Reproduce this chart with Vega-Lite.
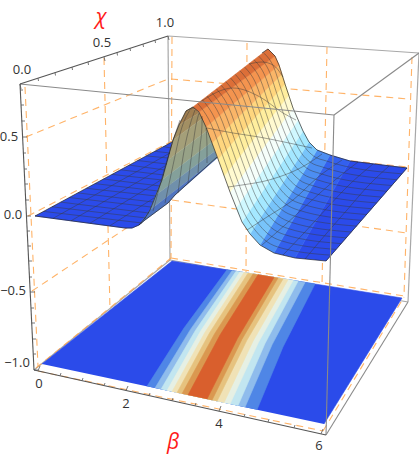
{
"$schema":"https://vega.github.io/schema/vega-lite/v6.json",
"width":419,"height":458,"padding":0,"autosize":{"type":"none"},"background":"white",
"config":{"view":{"stroke":null}},
"datasets":{
"dash":[
{"x":26,"y":137,"x2":168,"y2":79},{"x":28,"y":216,"x2":172,"y2":141},{"x":32,"y":291,"x2":170,"y2":199},{"x":36,"y":368,"x2":171,"y2":258},{"x":25,"y":87,"x2":38,"y2":366},{"x":104,"y":58,"x2":110,"y2":310},{"x":172,"y":37,"x2":171,"y2":258},{"x":171,"y":79,"x2":409,"y2":99},{"x":172,"y":200,"x2":407,"y2":233},{"x":172,"y":141,"x2":407,"y2":167},{"x":247,"y":43,"x2":246,"y2":273},{"x":327,"y":47,"x2":322,"y2":285},{"x":412,"y":57,"x2":404,"y2":296},{"x":171,"y":258,"x2":404,"y2":296},{"x":38,"y":371,"x2":323,"y2":431},{"x":323,"y":431,"x2":404,"y2":297}],
"backEdges":[
{"x":168,"y":36,"x2":170,"y2":260},{"x":168,"y":36,"x2":419,"y2":53},{"x":419,"y":53,"x2":408,"y2":302},{"x":34,"y":370,"x2":170,"y2":260},{"x":170,"y":260,"x2":408,"y2":302}],
"polys":[
{"p":"floor","k":0,"x":42,"y":364},{"p":"floor","k":1,"x":172,"y":261},{"p":"floor","k":2,"x":402,"y":298},{"p":"floor","k":3,"x":324,"y":424},
{"p":"b1","k":0,"x":147,"y":386.3},{"p":"b1","k":1,"x":184,"y":328},{"p":"b1","k":2,"x":227,"y":269.8},{"p":"b1","k":3,"x":315,"y":284},{"p":"b1","k":4,"x":283,"y":346.9},{"p":"b1","k":5,"x":257,"y":409.8},
{"p":"b2","k":0,"x":155,"y":388},{"p":"b2","k":1,"x":190.5,"y":329.4},{"p":"b2","k":2,"x":232,"y":270.7},{"p":"b2","k":3,"x":305,"y":282.4},{"p":"b2","k":4,"x":272,"y":344.8},{"p":"b2","k":5,"x":245,"y":407.2},
{"p":"b3","k":0,"x":161,"y":389.3},{"p":"b3","k":1,"x":195.5,"y":330.3},{"p":"b3","k":2,"x":236,"y":271.3},{"p":"b3","k":3,"x":298,"y":281.3},{"p":"b3","k":4,"x":265,"y":343.5},{"p":"b3","k":5,"x":238,"y":405.7},
{"p":"b4","k":0,"x":167,"y":390.6},{"p":"b4","k":1,"x":200.5,"y":331.3},{"p":"b4","k":2,"x":240,"y":271.9},{"p":"b4","k":3,"x":293,"y":280.5},{"p":"b4","k":4,"x":258.5,"y":342.3},{"p":"b4","k":5,"x":230,"y":404},
{"p":"b5","k":0,"x":172,"y":391.7},{"p":"b5","k":1,"x":205,"y":332.2},{"p":"b5","k":2,"x":244,"y":272.6},{"p":"b5","k":3,"x":288,"y":279.7},{"p":"b5","k":4,"x":253,"y":341.2},{"p":"b5","k":5,"x":224,"y":402.7},
{"p":"b6","k":0,"x":177,"y":392.7},{"p":"b6","k":1,"x":209.5,"y":333},{"p":"b6","k":2,"x":248,"y":273.2},{"p":"b6","k":3,"x":283,"y":278.9},{"p":"b6","k":4,"x":247,"y":340},{"p":"b6","k":5,"x":217,"y":401.2},
{"p":"b7","k":0,"x":182,"y":393.8},{"p":"b7","k":1,"x":214.5,"y":333.9},{"p":"b7","k":2,"x":253,"y":274},{"p":"b7","k":3,"x":278,"y":278.1},{"p":"b7","k":4,"x":242,"y":339.2},{"p":"b7","k":5,"x":212,"y":400.2},
{"p":"b8","k":0,"x":188,"y":395.1},{"p":"b8","k":1,"x":220,"y":335},{"p":"b8","k":2,"x":258,"y":274.8},{"p":"b8","k":3,"x":274,"y":277.4},{"p":"b8","k":4,"x":237.5,"y":338.3},{"p":"b8","k":5,"x":207,"y":399.1},
{"p":"plate","k":0,"x":35,"y":216},{"p":"plate","k":1,"x":125,"y":228},{"p":"plate","k":2,"x":132,"y":228},{"p":"plate","k":3,"x":139,"y":225},{"p":"plate","k":4,"x":145,"y":218},{"p":"plate","k":5,"x":150,"y":210},{"p":"plate","k":6,"x":156,"y":195},{"p":"plate","k":7,"x":162,"y":180},{"p":"plate","k":8,"x":168,"y":160},{"p":"plate","k":9,"x":172,"y":142},
{"p":"d0","k":0,"x":193,"y":107},{"p":"d0","k":1,"x":186,"y":111},{"p":"d0","k":2,"x":196,"y":109},
{"p":"d1","k":0,"x":186,"y":111},{"p":"d1","k":1,"x":179,"y":125},{"p":"d1","k":2,"x":199,"y":113},{"p":"d1","k":3,"x":196,"y":109},
{"p":"d2","k":0,"x":179,"y":125},{"p":"d2","k":1,"x":173,"y":140},{"p":"d2","k":2,"x":203,"y":118},{"p":"d2","k":3,"x":199,"y":113},
{"p":"d3","k":0,"x":173,"y":140},{"p":"d3","k":1,"x":168,"y":160},{"p":"d3","k":2,"x":208,"y":130},{"p":"d3","k":3,"x":203,"y":118},
{"p":"d4","k":0,"x":168,"y":160},{"p":"d4","k":1,"x":162,"y":180},{"p":"d4","k":2,"x":212,"y":142},{"p":"d4","k":3,"x":208,"y":130},
{"p":"d5","k":0,"x":162,"y":180},{"p":"d5","k":1,"x":156,"y":195},{"p":"d5","k":2,"x":215,"y":151},{"p":"d5","k":3,"x":212,"y":142},
{"p":"d6","k":0,"x":156,"y":195},{"p":"d6","k":1,"x":150,"y":210},{"p":"d6","k":2,"x":217,"y":158},{"p":"d6","k":3,"x":215,"y":151},
{"p":"d7","k":0,"x":150,"y":210},{"p":"d7","k":1,"x":139,"y":225},{"p":"d7","k":2,"x":145,"y":220},{"p":"d7","k":3,"x":168,"y":203},{"p":"d7","k":4,"x":175,"y":195},{"p":"d7","k":5,"x":217,"y":158},
{"p":"s12","k":0,"x":295,"y":258},{"p":"s12","k":1,"x":350,"y":161},{"p":"s12","k":2,"x":407,"y":168},{"p":"s12","k":3,"x":326,"y":261},
{"p":"s11","k":0,"x":274,"y":253},{"p":"s11","k":1,"x":330,"y":155},{"p":"s11","k":2,"x":350,"y":161},{"p":"s11","k":3,"x":295,"y":258},
{"p":"s10","k":0,"x":260,"y":245},{"p":"s10","k":1,"x":317,"y":150},{"p":"s10","k":2,"x":330,"y":155},{"p":"s10","k":3,"x":274,"y":253},
{"p":"s9","k":0,"x":250,"y":234},{"p":"s9","k":1,"x":309,"y":142},{"p":"s9","k":2,"x":317,"y":150},{"p":"s9","k":3,"x":260,"y":245},
{"p":"s8","k":0,"x":242,"y":222},{"p":"s8","k":1,"x":303,"y":131},{"p":"s8","k":2,"x":309,"y":142},{"p":"s8","k":3,"x":250,"y":234},
{"p":"s7","k":0,"x":236,"y":208},{"p":"s7","k":1,"x":298,"y":120},{"p":"s7","k":2,"x":303,"y":131},{"p":"s7","k":3,"x":242,"y":222},
{"p":"s6","k":0,"x":230,"y":192},{"p":"s6","k":1,"x":293,"y":108},{"p":"s6","k":2,"x":298,"y":120},{"p":"s6","k":3,"x":236,"y":208},
{"p":"s5","k":0,"x":224,"y":176},{"p":"s5","k":1,"x":289,"y":95},{"p":"s5","k":2,"x":293,"y":108},{"p":"s5","k":3,"x":230,"y":192},
{"p":"s4","k":0,"x":218,"y":159},{"p":"s4","k":1,"x":285,"y":84},{"p":"s4","k":2,"x":289,"y":95},{"p":"s4","k":3,"x":224,"y":176},
{"p":"s3","k":0,"x":212,"y":143},{"p":"s3","k":1,"x":282,"y":74},{"p":"s3","k":2,"x":285,"y":84},{"p":"s3","k":3,"x":218,"y":159},
{"p":"s2","k":0,"x":206,"y":127},{"p":"s2","k":1,"x":279,"y":65},{"p":"s2","k":2,"x":282,"y":74},{"p":"s2","k":3,"x":212,"y":143},
{"p":"s1","k":0,"x":199,"y":112},{"p":"s1","k":1,"x":275,"y":56},{"p":"s1","k":2,"x":279,"y":65},{"p":"s1","k":3,"x":206,"y":127},
{"p":"s0","k":0,"x":193,"y":107},{"p":"s0","k":1,"x":268,"y":49},{"p":"s0","k":2,"x":275,"y":56},{"p":"s0","k":3,"x":199,"y":112}
],
"mesh":[
{"m":"c1","k":0,"x":197.7,"y":103.4},{"m":"c1","k":1,"x":210.6,"y":123.1},{"m":"c1","k":2,"x":222.2,"y":154.3},{"m":"c1","k":3,"x":233.9,"y":186.8},{"m":"c1","k":4,"x":245.8,"y":216.3},{"m":"c1","k":5,"x":253.7,"y":228.3},{"m":"c1","k":6,"x":263.6,"y":239.1},{"m":"c1","k":7,"x":277.5,"y":246.9},{"m":"c1","k":8,"x":331.1,"y":255.2},
{"m":"c2","k":0,"x":202.4,"y":99.7},{"m":"c2","k":1,"x":215.1,"y":119.2},{"m":"c2","k":2,"x":226.4,"y":149.6},{"m":"c2","k":3,"x":237.9,"y":181.5},{"m":"c2","k":4,"x":249.6,"y":210.6},{"m":"c2","k":5,"x":257.4,"y":222.5},{"m":"c2","k":6,"x":267.1,"y":233.1},{"m":"c2","k":7,"x":281,"y":240.7},{"m":"c2","k":8,"x":336.1,"y":249.4},
{"m":"c3","k":0,"x":207.1,"y":96.1},{"m":"c3","k":1,"x":219.7,"y":115.4},{"m":"c3","k":2,"x":230.6,"y":144.9},{"m":"c3","k":3,"x":241.8,"y":176.3},{"m":"c3","k":4,"x":253.4,"y":204.9},{"m":"c3","k":5,"x":261.1,"y":216.8},{"m":"c3","k":6,"x":270.7,"y":227.2},{"m":"c3","k":7,"x":284.5,"y":234.6},{"m":"c3","k":8,"x":341.2,"y":243.6},
{"m":"c4","k":0,"x":211.8,"y":92.5},{"m":"c4","k":1,"x":224.2,"y":111.5},{"m":"c4","k":2,"x":234.8,"y":140.2},{"m":"c4","k":3,"x":245.8,"y":171},{"m":"c4","k":4,"x":257.2,"y":199.2},{"m":"c4","k":5,"x":264.8,"y":211},{"m":"c4","k":6,"x":274.2,"y":221.2},{"m":"c4","k":7,"x":288,"y":228.5},{"m":"c4","k":8,"x":346.2,"y":237.8},
{"m":"c5","k":0,"x":216.5,"y":88.9},{"m":"c5","k":1,"x":228.8,"y":107.6},{"m":"c5","k":2,"x":239,"y":135.6},{"m":"c5","k":3,"x":249.7,"y":165.8},{"m":"c5","k":4,"x":261.1,"y":193.6},{"m":"c5","k":5,"x":268.5,"y":205.3},{"m":"c5","k":6,"x":277.8,"y":215.3},{"m":"c5","k":7,"x":291.5,"y":222.4},{"m":"c5","k":8,"x":351.3,"y":232},
{"m":"c6","k":0,"x":221.1,"y":85.2},{"m":"c6","k":1,"x":233.4,"y":103.7},{"m":"c6","k":2,"x":243.1,"y":130.9},{"m":"c6","k":3,"x":253.6,"y":160.5},{"m":"c6","k":4,"x":264.9,"y":187.9},{"m":"c6","k":5,"x":272.1,"y":199.5},{"m":"c6","k":6,"x":281.4,"y":209.4},{"m":"c6","k":7,"x":295,"y":216.2},{"m":"c6","k":8,"x":356.4,"y":226.1},
{"m":"c7","k":0,"x":225.8,"y":81.6},{"m":"c7","k":1,"x":237.9,"y":99.8},{"m":"c7","k":2,"x":247.3,"y":126.2},{"m":"c7","k":3,"x":257.6,"y":155.3},{"m":"c7","k":4,"x":268.7,"y":182.2},{"m":"c7","k":5,"x":275.8,"y":193.8},{"m":"c7","k":6,"x":284.9,"y":203.4},{"m":"c7","k":7,"x":298.5,"y":210.1},{"m":"c7","k":8,"x":361.4,"y":220.3},
{"m":"c8","k":0,"x":230.5,"y":78},{"m":"c8","k":1,"x":242.5,"y":96},{"m":"c8","k":2,"x":251.5,"y":121.5},{"m":"c8","k":3,"x":261.5,"y":150},{"m":"c8","k":4,"x":272.5,"y":176.5},{"m":"c8","k":5,"x":279.5,"y":188},{"m":"c8","k":6,"x":288.5,"y":197.5},{"m":"c8","k":7,"x":302,"y":204},{"m":"c8","k":8,"x":366.5,"y":214.5},
{"m":"c9","k":0,"x":235.2,"y":74.3},{"m":"c9","k":1,"x":247,"y":92.1},{"m":"c9","k":2,"x":255.7,"y":116.8},{"m":"c9","k":3,"x":265.5,"y":144.8},{"m":"c9","k":4,"x":276.3,"y":170.8},{"m":"c9","k":5,"x":283.2,"y":182.3},{"m":"c9","k":6,"x":292,"y":191.5},{"m":"c9","k":7,"x":305.5,"y":197.8},{"m":"c9","k":8,"x":371.5,"y":208.7},
{"m":"c10","k":0,"x":239.9,"y":70.7},{"m":"c10","k":1,"x":251.6,"y":88.2},{"m":"c10","k":2,"x":259.9,"y":112.1},{"m":"c10","k":3,"x":269.4,"y":139.5},{"m":"c10","k":4,"x":280.1,"y":165.1},{"m":"c10","k":5,"x":286.9,"y":176.5},{"m":"c10","k":6,"x":295.6,"y":185.6},{"m":"c10","k":7,"x":309,"y":191.7},{"m":"c10","k":8,"x":376.6,"y":202.9},
{"m":"c11","k":0,"x":244.6,"y":67.1},{"m":"c11","k":1,"x":256.2,"y":84.3},{"m":"c11","k":2,"x":264.1,"y":107.4},{"m":"c11","k":3,"x":273.3,"y":134.3},{"m":"c11","k":4,"x":283.9,"y":159.4},{"m":"c11","k":5,"x":290.6,"y":170.8},{"m":"c11","k":6,"x":299.2,"y":179.7},{"m":"c11","k":7,"x":312.5,"y":185.6},{"m":"c11","k":8,"x":381.7,"y":197.1},
{"m":"c12","k":0,"x":249.3,"y":63.4},{"m":"c12","k":1,"x":260.7,"y":80.4},{"m":"c12","k":2,"x":268.3,"y":102.7},{"m":"c12","k":3,"x":277.3,"y":129},{"m":"c12","k":4,"x":287.7,"y":153.7},{"m":"c12","k":5,"x":294.3,"y":165},{"m":"c12","k":6,"x":302.7,"y":173.7},{"m":"c12","k":7,"x":316,"y":179.4},{"m":"c12","k":8,"x":386.7,"y":191.3},
{"m":"c13","k":0,"x":254,"y":59.8},{"m":"c13","k":1,"x":265.3,"y":76.6},{"m":"c13","k":2,"x":272.5,"y":98},{"m":"c13","k":3,"x":281.2,"y":123.8},{"m":"c13","k":4,"x":291.5,"y":148},{"m":"c13","k":5,"x":298,"y":159.3},{"m":"c13","k":6,"x":306.3,"y":167.8},{"m":"c13","k":7,"x":319.5,"y":173.3},{"m":"c13","k":8,"x":391.8,"y":185.5},
{"m":"c14","k":0,"x":258.7,"y":56.2},{"m":"c14","k":1,"x":269.8,"y":72.7},{"m":"c14","k":2,"x":276.7,"y":93.3},{"m":"c14","k":3,"x":285.2,"y":118.5},{"m":"c14","k":4,"x":295.3,"y":142.3},{"m":"c14","k":5,"x":301.7,"y":153.5},{"m":"c14","k":6,"x":309.8,"y":161.8},{"m":"c14","k":7,"x":323,"y":167.2},{"m":"c14","k":8,"x":396.8,"y":179.7},
{"m":"c15","k":0,"x":263.4,"y":52.6},{"m":"c15","k":1,"x":274.4,"y":68.8},{"m":"c15","k":2,"x":280.9,"y":88.7},{"m":"c15","k":3,"x":289.1,"y":113.3},{"m":"c15","k":4,"x":299.2,"y":136.7},{"m":"c15","k":5,"x":305.4,"y":147.8},{"m":"c15","k":6,"x":313.4,"y":155.9},{"m":"c15","k":7,"x":326.5,"y":161},{"m":"c15","k":8,"x":401.9,"y":173.8},
{"m":"a","k":0,"x":228,"y":187},{"m":"a","k":1,"x":242,"y":185},{"m":"a","k":2,"x":269,"y":180},{"m":"a","k":3,"x":309,"y":163},{"m":"a","k":4,"x":322,"y":154},
{"m":"b","k":0,"x":207,"y":128},{"m":"b","k":1,"x":233,"y":133},{"m":"b","k":2,"x":259,"y":137},{"m":"b","k":3,"x":289,"y":143},{"m":"b","k":4,"x":312,"y":148},
{"m":"cc","k":0,"x":200,"y":102},{"m":"cc","k":1,"x":233,"y":88},{"m":"cc","k":2,"x":260,"y":97},{"m":"cc","k":3,"x":283,"y":113},{"m":"cc","k":4,"x":296,"y":120},
{"m":"d","k":0,"x":249,"y":64},{"m":"d","k":1,"x":262,"y":62},{"m":"d","k":2,"x":273,"y":65},{"m":"d","k":3,"x":283,"y":77},
{"m":"e","k":0,"x":247,"y":230},{"m":"e","k":1,"x":267,"y":217},{"m":"e","k":2,"x":293,"y":200},{"m":"e","k":3,"x":317,"y":178},{"m":"e","k":4,"x":342,"y":160},
{"m":"f","k":0,"x":262,"y":245},{"m":"f","k":1,"x":285,"y":225},{"m":"f","k":2,"x":310,"y":202},{"m":"f","k":3,"x":335,"y":180},{"m":"f","k":4,"x":358,"y":162},
{"m":"g","k":0,"x":283,"y":255},{"m":"g","k":1,"x":304,"y":233},{"m":"g","k":2,"x":327,"y":208},{"m":"g","k":3,"x":350,"y":184},{"m":"g","k":4,"x":373,"y":164},
{"m":"h","k":0,"x":305,"y":259},{"m":"h","k":1,"x":326,"y":234},{"m":"h","k":2,"x":347,"y":210},{"m":"h","k":3,"x":368,"y":186},{"m":"h","k":4,"x":389,"y":166},
{"m":"p1","k":0,"x":53,"y":218.4},{"m":"p1","k":1,"x":170,"y":153},
{"m":"p2","k":0,"x":71,"y":220.8},{"m":"p2","k":1,"x":165,"y":166},
{"m":"p3","k":0,"x":90,"y":223.2},{"m":"p3","k":1,"x":161,"y":180},
{"m":"p4","k":0,"x":110,"y":225.7},{"m":"p4","k":1,"x":154,"y":198},
{"m":"q1","k":0,"x":43.6,"y":211.4},{"m":"q1","k":1,"x":142,"y":223},
{"m":"q2","k":0,"x":52.1,"y":206.8},{"m":"q2","k":1,"x":146,"y":218},
{"m":"q3","k":0,"x":60.7,"y":202.1},{"m":"q3","k":1,"x":149,"y":213},
{"m":"q4","k":0,"x":69.2,"y":197.5},{"m":"q4","k":1,"x":151,"y":207},
{"m":"q5","k":0,"x":77.8,"y":192.9},{"m":"q5","k":1,"x":153,"y":202},
{"m":"q6","k":0,"x":86.4,"y":188.3},{"m":"q6","k":1,"x":156,"y":196},
{"m":"q7","k":0,"x":94.9,"y":183.6},{"m":"q7","k":1,"x":158,"y":191},
{"m":"q8","k":0,"x":103.5,"y":179},{"m":"q8","k":1,"x":160,"y":186},
{"m":"q9","k":0,"x":112,"y":174.4},{"m":"q9","k":1,"x":162,"y":180},
{"m":"q10","k":0,"x":120.6,"y":169.8},{"m":"q10","k":1,"x":164,"y":175},
{"m":"q11","k":0,"x":129.2,"y":165.1},{"m":"q11","k":1,"x":165,"y":170},
{"m":"q12","k":0,"x":137.7,"y":160.5},{"m":"q12","k":1,"x":167,"y":164},
{"m":"q13","k":0,"x":146.3,"y":155.9},{"m":"q13","k":1,"x":168,"y":158},
{"m":"q14","k":0,"x":154.8,"y":151.3},{"m":"q14","k":1,"x":170,"y":153},
{"m":"q15","k":0,"x":163.4,"y":146.6},{"m":"q15","k":1,"x":171,"y":148},
{"m":"u1","k":0,"x":165,"y":203},{"m":"u1","k":1,"x":172,"y":170},{"m":"u1","k":2,"x":182,"y":127},{"m":"u1","k":3,"x":190,"y":110},
{"m":"u2","k":0,"x":178,"y":193},{"m":"u2","k":1,"x":183,"y":157},{"m":"u2","k":2,"x":190,"y":125},{"m":"u2","k":3,"x":195,"y":110},
{"m":"u3","k":0,"x":188,"y":183},{"m":"u3","k":1,"x":192,"y":152},{"m":"u3","k":2,"x":196,"y":125},{"m":"u3","k":3,"x":199,"y":113},
{"m":"u4","k":0,"x":198,"y":173},{"m":"u4","k":1,"x":200,"y":147},{"m":"u4","k":2,"x":202,"y":125},{"m":"u4","k":3,"x":202,"y":116},
{"m":"u5","k":0,"x":207,"y":163},{"m":"u5","k":1,"x":207,"y":145},{"m":"u5","k":2,"x":206,"y":128},
{"m":"u6","k":0,"x":153,"y":211},{"m":"u6","k":1,"x":160,"y":185},{"m":"u6","k":2,"x":170,"y":150},{"m":"u6","k":3,"x":180,"y":120}
],
"outline":[
{"m":"o1","k":0,"x":35,"y":216},{"m":"o1","k":1,"x":125,"y":228},{"m":"o1","k":2,"x":132,"y":228},{"m":"o1","k":3,"x":139,"y":225},{"m":"o1","k":4,"x":145,"y":220},{"m":"o1","k":5,"x":168,"y":203},{"m":"o1","k":6,"x":175,"y":195},{"m":"o1","k":7,"x":217,"y":157},
{"m":"o2","k":0,"x":35,"y":216},{"m":"o2","k":1,"x":172,"y":142},
{"m":"o3","k":0,"x":139,"y":225},{"m":"o3","k":1,"x":145,"y":218},{"m":"o3","k":2,"x":150,"y":210},{"m":"o3","k":3,"x":162,"y":180},{"m":"o3","k":4,"x":173,"y":140},{"m":"o3","k":5,"x":179,"y":125},{"m":"o3","k":6,"x":186,"y":111},{"m":"o3","k":7,"x":193,"y":107},{"m":"o3","k":8,"x":199,"y":112},{"m":"o3","k":9,"x":206,"y":127},{"m":"o3","k":10,"x":218,"y":159},{"m":"o3","k":11,"x":230,"y":192},{"m":"o3","k":12,"x":242,"y":222},{"m":"o3","k":13,"x":250,"y":234},{"m":"o3","k":14,"x":260,"y":245},{"m":"o3","k":15,"x":274,"y":253},{"m":"o3","k":16,"x":295,"y":258},{"m":"o3","k":17,"x":326,"y":261},{"m":"o3","k":18,"x":407,"y":168},{"m":"o3","k":19,"x":350,"y":161},{"m":"o3","k":20,"x":330,"y":155},{"m":"o3","k":21,"x":317,"y":150},{"m":"o3","k":22,"x":309,"y":142},{"m":"o3","k":23,"x":303,"y":131},{"m":"o3","k":24,"x":293,"y":108},{"m":"o3","k":25,"x":285,"y":84},{"m":"o3","k":26,"x":279,"y":65},{"m":"o3","k":27,"x":275,"y":56},{"m":"o3","k":28,"x":268,"y":49},{"m":"o3","k":29,"x":262,"y":53}
],
"frontEdges":[
{"x":20,"y":84,"x2":334,"y2":115},{"x":334,"y":115,"x2":419,"y2":53},{"x":334,"y":115,"x2":326,"y2":435},{"x":326,"y":435,"x2":408,"y2":302}],
"axisEdges":[
{"x":20,"y":84,"x2":168,"y2":36},{"x":20,"y":84,"x2":34,"y2":370},{"x":34,"y":370,"x2":326,"y2":435}],
"ticks":[
{"x":38,"y":370.9,"x2":40,"y2":366},{"x":60,"y":375.8,"x2":61,"y2":373},{"x":82,"y":380.7,"x2":83,"y2":378},{"x":104,"y":385.6,"x2":105,"y2":383},{"x":126,"y":390.5,"x2":128,"y2":386},{"x":149,"y":395.6,"x2":150,"y2":393},{"x":172,"y":400.7,"x2":173,"y2":398},{"x":195,"y":405.8,"x2":196,"y2":403},{"x":219,"y":411.2,"x2":221,"y2":406},{"x":244,"y":416.7,"x2":245,"y2":414},{"x":268,"y":422.1,"x2":269,"y2":419},{"x":294,"y":427.9,"x2":295,"y2":425},{"x":321,"y":433.9,"x2":323,"y2":429},
{"x":20,"y":84,"x2":21,"y2":89},{"x":38,"y":78.2,"x2":38.5,"y2":81},{"x":55,"y":72.6,"x2":55.5,"y2":75.5},{"x":72,"y":67.1,"x2":72.5,"y2":70},{"x":88,"y":61.9,"x2":88.5,"y2":65},{"x":104,"y":56.8,"x2":105,"y2":61},{"x":117,"y":52.5,"x2":117.5,"y2":55.5},{"x":130,"y":48.3,"x2":130.5,"y2":51},{"x":143,"y":44.1,"x2":143.5,"y2":47},{"x":155,"y":40.2,"x2":155.5,"y2":43},{"x":168,"y":36,"x2":169,"y2":40},
{"x":20.3,"y":90,"x2":23,"y2":90},{"x":21,"y":105,"x2":24,"y2":105},{"x":21.8,"y":121,"x2":25,"y2":121},{"x":22.6,"y":137,"x2":27,"y2":137},{"x":23.4,"y":153,"x2":26,"y2":153},{"x":24.2,"y":169,"x2":27,"y2":169},{"x":24.9,"y":184,"x2":28,"y2":184},{"x":25.7,"y":200,"x2":29,"y2":200},{"x":26.5,"y":216,"x2":31,"y2":216},{"x":27.2,"y":231,"x2":30,"y2":231},{"x":27.9,"y":246,"x2":31,"y2":246},{"x":28.7,"y":261,"x2":32,"y2":261},{"x":29.4,"y":277,"x2":32,"y2":277},{"x":30.2,"y":292,"x2":35,"y2":292},{"x":31,"y":308,"x2":34,"y2":308},{"x":31.7,"y":323,"x2":35,"y2":323},{"x":32.5,"y":339,"x2":36,"y2":339},{"x":33.2,"y":354,"x2":36,"y2":354},{"x":34,"y":370,"x2":38,"y2":370}],
"tickLabels":[
{"t":"0.0","x":22,"y":70},{"t":"0.5","x":102,"y":43},{"t":"1.0","x":165,"y":23},
{"t":"0.5","x":9,"y":137},{"t":"0.0","x":13,"y":215},{"t":"\u22120.5","x":13,"y":291},{"t":"\u22121.0","x":17,"y":363},
{"t":"0","x":39,"y":384},{"t":"2","x":126,"y":404},{"t":"4","x":219,"y":424},{"t":"6","x":319,"y":446}],
"axisTitles":[{"t":"\u03c7","x":101,"y":18},{"t":"\u03b2","x":173,"y":443}]
},
"encoding":{
"x":{"field":"x","type":"quantitative","scale":{"domain":[0,419],"nice":false,"zero":false},"axis":null},
"y":{"field":"y","type":"quantitative","scale":{"domain":[458,0],"nice":false,"zero":false},"axis":null}
},
"layer":[
{"data":{"name":"backEdges"},"mark":{"type":"rule","stroke":"#a8a8a8","strokeWidth":1.2},"encoding":{"x2":{"field":"x2"},"y2":{"field":"y2"}}},
{"data":{"name":"dash"},"mark":{"type":"rule","stroke":"#ffa64d","strokeWidth":1.1,"strokeDash":[7,5],"opacity":0.85},"encoding":{"x2":{"field":"x2"},"y2":{"field":"y2"}}},
{"data":{"name":"polys"},"mark":{"type":"line","strokeWidth":0.6,"interpolate":"linear"},"encoding":{
"order":{"field":"k","type":"quantitative"},
"detail":{"field":"p"},
"fill":{"field":"p","type":"nominal","legend":null,"scale":{"domain":["floor","b1","b2","b3","b4","b5","b6","b7","b8","plate","d0","d1","d2","d3","d4","d5","d6","d7","s0","s1","s2","s3","s4","s5","s6","s7","s8","s9","s10","s11","s12"],"range":["#2b4bea","#4f86e6","#8fbcec","#c2e6f0","#e6f0e4","#f0e2b6","#e6c27e","#da9850","#d95f2d","#2b4bea","#8c6a45","#a07e50","#a28f63","#a49f79","#97a287","#84a09a","#7090ab","#4f74c0","#dc6f38","#f4944f","#fab568","#ffd67e","#ffee9e","#fffad0","#f5fefa","#d0f8ff","#a4e8ff","#78c4fa","#4c8ef2","#3360ee","#2b4bea"]}},
"stroke":{"field":"p","type":"nominal","legend":null,"scale":{"domain":["floor","b1","b2","b3","b4","b5","b6","b7","b8","plate","d0","d1","d2","d3","d4","d5","d6","d7","s0","s1","s2","s3","s4","s5","s6","s7","s8","s9","s10","s11","s12"],"range":["#2b4bea","#4f86e6","#8fbcec","#c2e6f0","#e6f0e4","#f0e2b6","#e6c27e","#da9850","#d95f2d","#2b4bea","#8c6a45","#a07e50","#a28f63","#a49f79","#97a287","#84a09a","#7090ab","#4f74c0","#dc6f38","#f4944f","#fab568","#ffd67e","#ffee9e","#fffad0","#f5fefa","#d0f8ff","#a4e8ff","#78c4fa","#4c8ef2","#3360ee","#2b4bea"]}}
}},
{"data":{"name":"mesh"},"mark":{"type":"line","stroke":"#3a3a3a","strokeWidth":0.7,"opacity":0.65,"interpolate":"monotone"},"encoding":{"order":{"field":"k","type":"quantitative"},"detail":{"field":"m"}}},
{"data":{"name":"outline"},"mark":{"type":"line","stroke":"#222","strokeWidth":0.8,"opacity":0.85},"encoding":{"order":{"field":"k","type":"quantitative"},"detail":{"field":"m"}}},
{"data":{"name":"frontEdges"},"mark":{"type":"rule","stroke":"#8a8a8a","strokeWidth":1.1},"encoding":{"x2":{"field":"x2"},"y2":{"field":"y2"}}},
{"data":{"name":"axisEdges"},"mark":{"type":"rule","stroke":"#555","strokeWidth":1.1},"encoding":{"x2":{"field":"x2"},"y2":{"field":"y2"}}},
{"data":{"name":"ticks"},"mark":{"type":"rule","stroke":"#555","strokeWidth":0.8},"encoding":{"x2":{"field":"x2"},"y2":{"field":"y2"}}},
{"data":{"name":"tickLabels"},"mark":{"type":"text","font":"Open Sans","fontSize":13,"fill":"#333","align":"center","baseline":"middle"},"encoding":{"text":{"field":"t"}}},
{"data":{"name":"axisTitles"},"mark":{"type":"text","font":"Open Sans","fontSize":21,"fontStyle":"italic","fill":"#ff1a1a","align":"center","baseline":"middle"},"encoding":{"text":{"field":"t"}}}
]
}
